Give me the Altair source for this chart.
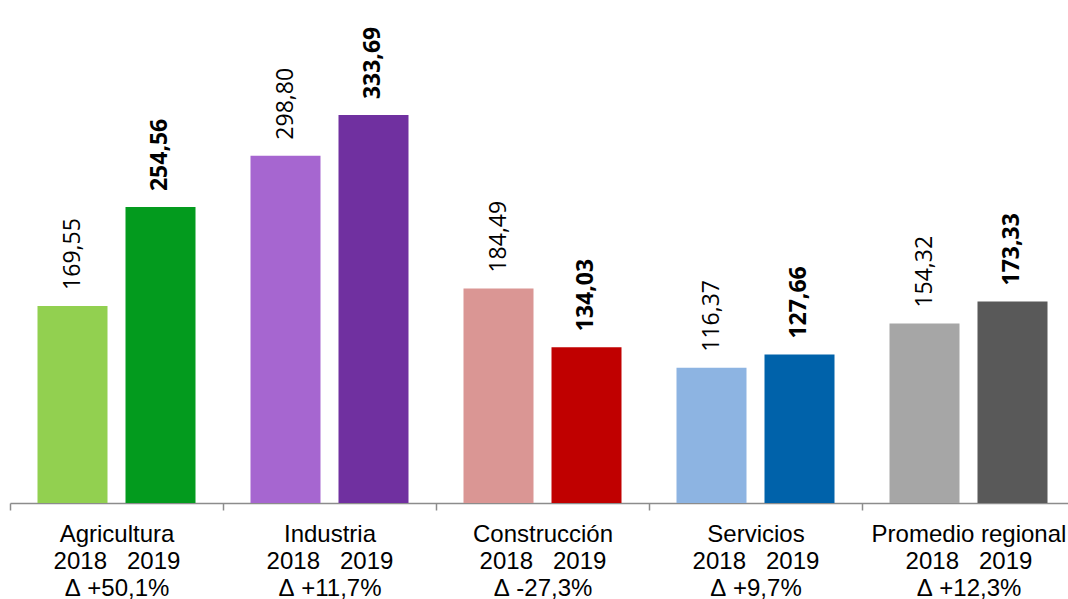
import altair as alt
import pandas as pd

# Sector values (two years per sector)
categories = ["Agricultura", "Industria", "Construcción", "Servicios", "Promedio regional"]
years = ["2018", "2019"]
values_2018 = [169.55, 298.80, 184.49, 116.37, 154.32]
values_2019 = [254.56, 333.69, 134.03, 127.66, 173.33]
change_pct = [50.1, 11.7, -27.3, 9.7, 12.3]
colors_2018 = ["#92D050", "#A666D0", "#DA9694", "#8DB4E2", "#A6A6A6"]
colors_2019 = ["#039B1E", "#7030A0", "#C00000", "#0062AA", "#595959"]


def es_num(v, digits=2):
    return f"{v:.{digits}f}".replace(".", ",")


NBSP = "\u00a0"
rows = []
keys, palette = [], []
for cat, a, b, chg, ca, cb in zip(categories, values_2018, values_2019, change_pct,
                                  colors_2018, colors_2019):
    sign = "+" if chg >= 0 else "-"
    axis_label = (f"{cat}|{years[0]}{NBSP * 3}{years[1]}|"
                  f"Δ{NBSP}{sign}{es_num(abs(chg), 1)}%")
    for yr, val, col in ((years[0], a, ca), (years[1], b, cb)):
        key = f"{cat} {yr}"
        rows.append({"group": axis_label, "year": yr, "value": val,
                     "key": key, "text": es_num(val)})
        keys.append(key)
        palette.append(col)

df = pd.DataFrame(rows)
group_order = list(dict.fromkeys(df["group"]))

x_enc = alt.X(
    "group:N",
    sort=group_order,
    scale=alt.Scale(paddingInner=0, paddingOuter=0, range=[0, 1065]),
    axis=alt.Axis(
        title=None,
        labelExpr="datum.value ? split(datum.value, '|') : ''",
        labelAngle=0,
        labelFont="Liberation Sans",
        labelFontSize=24,
        labelColor="#000000",
        labelLineHeight=27,
        labelPadding=12,
        labelBaseline="top",
        labelLimit=400,
        labelOverlap=False,
        tickBand="extent",
        tickColor="#8C8C8C",
        tickSize=7,
        tickWidth=1.5,
        domainColor="#8C8C8C",
        domainWidth=1.5,
        grid=False,
    ),
)
xoff_enc = alt.XOffset("year:N", sort=years,
                       scale=alt.Scale(paddingInner=0.2045, paddingOuter=0.3125))
y_enc = alt.Y("value:Q", scale=alt.Scale(domain=[0, 400], nice=False), axis=None)

base = alt.Chart(df).encode(x=x_enc, xOffset=xoff_enc, y=y_enc)

bars = base.mark_bar().encode(
    color=alt.Color("key:N", scale=alt.Scale(domain=keys, range=palette), legend=None)
)

label_style = dict(angle=270, align="left", baseline="middle", dx=16,
                   font="Open Sans", fontSize=23, color="#000000")

labels_2018 = base.transform_filter(alt.datum.year == years[0]).mark_text(
    fontWeight="normal", **label_style
).encode(text="text:N")

labels_2019 = base.transform_filter(alt.datum.year == years[1]).mark_text(
    fontWeight="bold", **label_style
).encode(text="text:N")

chart = (
    alt.layer(bars, labels_2018, labels_2019)
    .properties(
        width=1058,
        height=465,
        autosize=alt.AutoSizeParams(type="none"),
        padding={"left": 10, "top": 38, "right": 0, "bottom": 96},
        background="#FFFFFF",
    )
    .configure_view(stroke=None)
)

chart.save("out.html", embed_options={"renderer": "svg", "actions": False})
